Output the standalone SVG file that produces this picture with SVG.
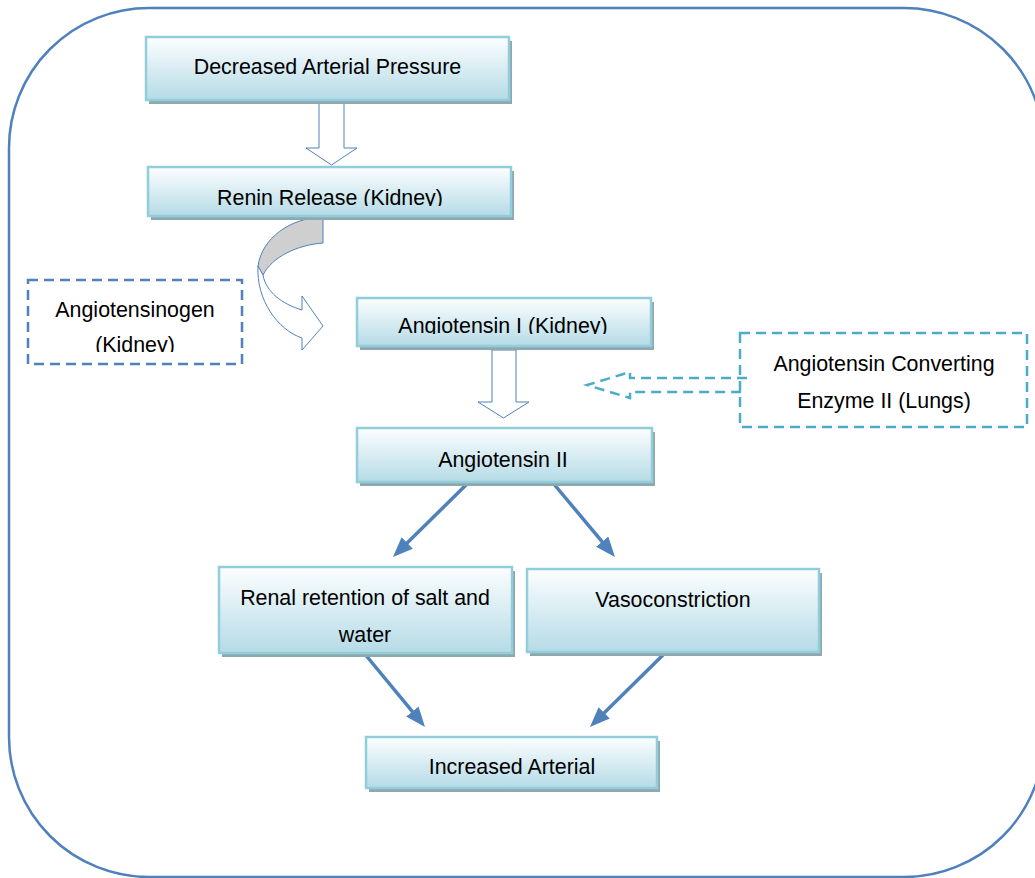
<svg xmlns="http://www.w3.org/2000/svg" width="1035" height="878" viewBox="0 0 1035 878">
<defs>
<linearGradient id="boxg" x1="0" y1="0" x2="0" y2="1">
<stop offset="0" stop-color="#fcfeff"/>
<stop offset="1" stop-color="#b5dbe6"/>
</linearGradient>
<marker id="ah" markerUnits="userSpaceOnUse" markerWidth="20" markerHeight="16" viewBox="0 0 20 16" refX="8" refY="8" orient="auto">
<path d="M0,0 L20,8 L0,16 z" fill="#4f81bd"/>
</marker>
<clipPath id="clipRenin"><rect x="140" y="160" width="380" height="46"/></clipPath>
<clipPath id="clipAng1"><rect x="350" y="290" width="310" height="44"/></clipPath>
<clipPath id="clipAgen"><rect x="20" y="270" width="230" height="82"/></clipPath>
</defs>
<style>
.shadow{fill:#8fa8ae}
.box{fill:url(#boxg);stroke:#92cddc;stroke-width:2.5}
.t{font-family:"Liberation Sans",Arial,sans-serif;font-size:21.4px;fill:#000;text-anchor:middle}
.hollow{fill:#fff;stroke:#4f81bd;stroke-width:1}
.conn{stroke:#4f81bd;stroke-width:3.5;fill:none;marker-end:url(#ah)}
.dashA{fill:none;stroke:#4f81bd;stroke-width:2.5;stroke-dasharray:10,6}
.dashB{fill:none;stroke:#4bacc6;stroke-width:2.5;stroke-dasharray:10,6}
</style>
<rect x="9" y="8" width="1035" height="869" rx="140" ry="140" fill="none" stroke="#4f81bd" stroke-width="2.5"/>

<g id="connectors">
<path class="hollow" d="M319,97 L344,97 L344,148 L357,148 L331.5,165 L306,148 L319,148 Z"/>
<path d="M323,217 L323,243 C297,245 272,257 263,275 L258,266 C262,238 290,218 323,217 Z" fill="#cfcfcf" stroke="#4f81bd" stroke-width="1"/>
<path class="hollow" d="M258,266 C256,300 278,330 302,338 L302,350 L323,326 L302,296 L302,310 C282,304 266,292 263,275 Z"/>
<path class="hollow" d="M492,350 L516,350 L516,402 L529,402 L503.5,418 L478,402 L492,402 Z"/>
<path class="dashB" d="M747,378 L630,378 L630,372 L587,385 L630,398 L630,392 L747,392"/>
<line class="conn" x1="468" y1="483" x2="401.5" y2="548.6"/>
<line class="conn" x1="553" y1="483" x2="607.3" y2="547.8"/>
<line class="conn" x1="364" y1="653" x2="417.4" y2="717.7"/>
<line class="conn" x1="665" y1="653" x2="598.5" y2="718.5"/>
</g>

<g id="decreased">
<rect class="shadow" x="149" y="41" width="363" height="63"/>
<rect class="box" x="146" y="37" width="363" height="63"/>
<text class="t" x="327.5" y="74">Decreased Arterial Pressure</text>
</g>

<g id="renin">
<rect class="shadow" x="151" y="171" width="363" height="49"/>
<rect class="box" x="148" y="167" width="363" height="49"/>
<text class="t" x="330" y="205" clip-path="url(#clipRenin)">Renin Release (Kidney)</text>
</g>

<g id="angiotensinogen">
<rect class="dashA" x="28" y="280" width="214" height="84"/>
<text class="t" x="135" y="317">Angiotensinogen</text>
<text class="t" x="135" y="352" clip-path="url(#clipAgen)">(Kidney)</text>
</g>

<g id="angiotensin1">
<rect class="shadow" x="360" y="302" width="294" height="48"/>
<rect class="box" x="357" y="298" width="294" height="48"/>
<text class="t" x="503" y="333" clip-path="url(#clipAng1)">Angiotensin I (Kidney)</text>
</g>

<g id="ace">
<rect class="dashB" x="740" y="333" width="287" height="94"/>
<text class="t" x="884" y="371">Angiotensin Converting</text>
<text class="t" x="884" y="408">Enzyme II (Lungs)</text>
</g>

<g id="angiotensin2">
<rect class="shadow" x="360" y="432" width="295" height="54"/>
<rect class="box" x="357" y="428" width="295" height="54"/>
<text class="t" x="503" y="467">Angiotensin II</text>
</g>

<g id="renal">
<rect class="shadow" x="222" y="571" width="293" height="86"/>
<rect class="box" x="219" y="567" width="293" height="86"/>
<text class="t" x="365" y="605">Renal retention of salt and</text>
<text class="t" x="365" y="642">water</text>
</g>

<g id="vaso">
<rect class="shadow" x="530" y="573" width="292" height="83"/>
<rect class="box" x="527" y="569" width="292" height="83"/>
<text class="t" x="673" y="607">Vasoconstriction</text>
</g>

<g id="increased">
<rect class="shadow" x="369" y="741" width="291" height="51"/>
<rect class="box" x="366" y="737" width="291" height="51"/>
<text class="t" x="512" y="774">Increased Arterial</text>
</g>
</svg>
